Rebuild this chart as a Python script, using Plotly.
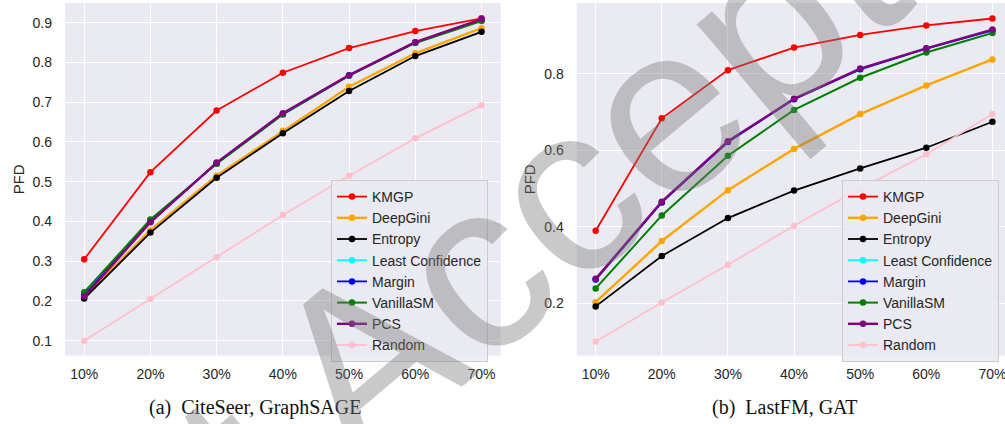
import plotly.graph_objects as go

x_labels = ["10%", "20%", "30%", "40%", "50%", "60%", "70%"]
methods = ["KMGP", "DeepGini", "Entropy", "Least Confidence", "Margin", "VanillaSM", "PCS", "Random"]
colors = ["#ff0000", "#ffa500", "#000000", "#00ffff", "#0000ff", "#008000", "#800080", "#ffc0cb"]
widths = [1.8, 2.4, 1.8, 1.8, 1.8, 2.0, 2.4, 1.8]

# (a) CiteSeer, GraphSAGE
cite_kmgp = [0.305, 0.524, 0.679, 0.774, 0.836, 0.879, 0.911]
cite_deepgini = [0.210, 0.378, 0.515, 0.628, 0.739, 0.823, 0.886]
cite_entropy = [0.206, 0.372, 0.510, 0.622, 0.728, 0.816, 0.877]
cite_lc = [0.215, 0.400, 0.546, 0.670, 0.767, 0.850, 0.906]
cite_margin = [0.215, 0.400, 0.546, 0.670, 0.767, 0.850, 0.906]
cite_vanilla = [0.222, 0.405, 0.545, 0.669, 0.767, 0.849, 0.904]
cite_pcs = [0.211, 0.398, 0.548, 0.672, 0.768, 0.851, 0.909]
cite_random = [0.100, 0.205, 0.310, 0.416, 0.515, 0.609, 0.692]

# (b) LastFM, GAT
lfm_kmgp = [0.390, 0.684, 0.810, 0.869, 0.902, 0.927, 0.945]
lfm_deepgini = [0.203, 0.363, 0.496, 0.604, 0.695, 0.770, 0.838]
lfm_entropy = [0.192, 0.324, 0.423, 0.495, 0.553, 0.607, 0.675]
lfm_lc = [0.262, 0.464, 0.622, 0.734, 0.812, 0.866, 0.914]
lfm_margin = [0.262, 0.464, 0.622, 0.734, 0.812, 0.866, 0.914]
lfm_vanilla = [0.239, 0.430, 0.586, 0.706, 0.790, 0.856, 0.907]
lfm_pcs = [0.264, 0.466, 0.624, 0.735, 0.814, 0.867, 0.916]
lfm_random = [0.100, 0.202, 0.301, 0.403, 0.500, 0.590, 0.695]

cite = [cite_kmgp, cite_deepgini, cite_entropy, cite_lc, cite_margin, cite_vanilla, cite_pcs, cite_random]
lfm = [lfm_kmgp, lfm_deepgini, lfm_entropy, lfm_lc, lfm_margin, lfm_vanilla, lfm_pcs, lfm_random]

W, H = 1005, 424
fig = go.Figure()
for i, m in enumerate(methods):
    fig.add_trace(go.Scatter(x=x_labels, y=cite[i], name=m, mode="lines+markers",
                             line=dict(color=colors[i], width=widths[i]),
                             marker=dict(color=colors[i], size=6.5),
                             xaxis="x", yaxis="y", legend="legend"))
for i, m in enumerate(methods):
    fig.add_trace(go.Scatter(x=x_labels, y=lfm[i], name=m, mode="lines+markers",
                             line=dict(color=colors[i], width=widths[i]),
                             marker=dict(color=colors[i], size=6.5),
                             xaxis="x2", yaxis="y2", legend="legend2"))

font_txt = "Liberation Sans, Arial, sans-serif"
tick_font = dict(family=font_txt, size=14, color="#262626")
bg = "#eaeaf2"

common_x = dict(type="category", showgrid=True, gridcolor="white", gridwidth=1.3,
                zeroline=False, showline=False, ticks="", tickfont=tick_font,
                ticklabelstandoff=8, automargin=False)
common_y = dict(showgrid=True, gridcolor="white", gridwidth=1.3, zeroline=False,
                showline=False, ticks="", tickfont=tick_font, ticklabelstandoff=12,
                automargin=False,
                title=dict(text="PFD", font=dict(family=font_txt, size=15, color="#262626"), standoff=4))

y_bot = 1 - 355.7 / H
y_top = 1 - 3 / H

legend_common = dict(xanchor="left", yanchor="top",
                     bgcolor="rgba(234,234,242,0.85)", bordercolor="#cccccc", borderwidth=1,
                     font=dict(family=font_txt, size=14, color="#262626"), itemwidth=30)

cap_font = dict(family="Liberation Serif, Times New Roman, serif", size=20, color="#111111")

fig.update_layout(
    width=W, height=H,
    margin=dict(l=0, r=0, t=0, b=0, autoexpand=False),
    paper_bgcolor="white",
    plot_bgcolor=bg,
    xaxis=dict(common_x, domain=[65 / W, 500.7 / W], range=[-0.29, 6.29], anchor="y"),
    yaxis=dict(common_y, domain=[y_bot, y_top], range=[0.0623, 0.9495], anchor="x",
               tickvals=[0.1, 0.2, 0.3, 0.4, 0.5, 0.6, 0.7, 0.8, 0.9],
               ticktext=["0.1", "0.2", "0.3", "0.4", "0.5", "0.6", "0.7", "0.8", "0.9"]),
    xaxis2=dict(common_x, domain=[576.7 / W, 1.0], range=[-0.287, 6.19], anchor="y2"),
    yaxis2=dict(common_y, domain=[y_bot, y_top], range=[0.063, 0.9856], anchor="x2",
                tickvals=[0.2, 0.4, 0.6, 0.8], ticktext=["0.2", "0.4", "0.6", "0.8"]),
    legend=dict(legend_common, x=331 / W, y=1 - 180 / H),
    legend2=dict(legend_common, x=842 / W, y=1 - 180 / H),
    annotations=[
        dict(text="(a)  CiteSeer, GraphSAGE", x=255 / W, y=1 - 407 / H, xref="paper", yref="paper",
             xanchor="center", yanchor="middle", showarrow=False, font=cap_font),
        dict(text="(b)  LastFM, GAT", x=785 / W, y=1 - 407 / H, xref="paper", yref="paper",
             xanchor="center", yanchor="middle", showarrow=False, font=cap_font),
        dict(text="Just Accepted", x=498 / W, y=1 - 248 / H, xref="paper", yref="paper",
             xanchor="center", yanchor="middle", showarrow=False, textangle=-40,
             font=dict(family="Liberation Sans, Arial, sans-serif", size=240, color="rgba(120,120,120,0.4)")),
    ],
)

fig.write_html("out.html", config={"displayModeBar": False},
               post_script="document.body.style.margin='0px';document.body.style.padding='0px';document.body.style.overflow='hidden';")
